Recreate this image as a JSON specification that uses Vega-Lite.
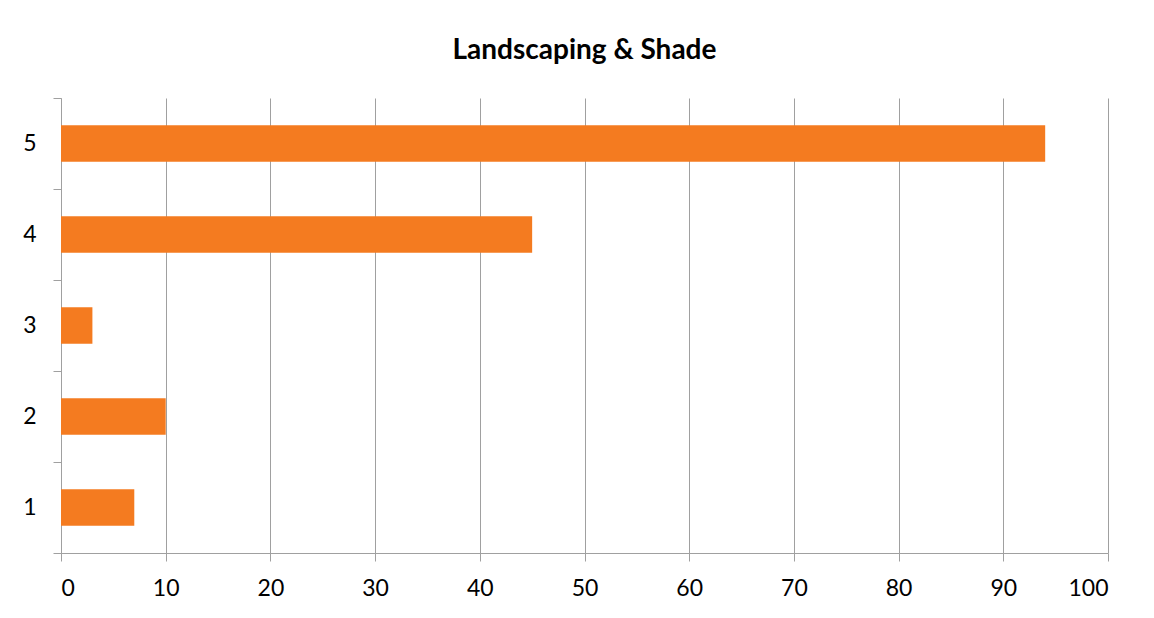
{
  "$schema": "https://vega.github.io/schema/vega-lite/v6.json",
  "width": 1047,
  "height": 455,
  "autosize": {"type": "none"},
  "padding": {"left": 61, "top": 98, "right": 46, "bottom": 65},
  "background": "white",
  "title": {
    "text": "Landscaping & Shade",
    "font": "Lato",
    "fontSize": 28,
    "fontWeight": "bold",
    "color": "black",
    "anchor": "middle",
    "offset": 22
  },
  "config": {"view": {"stroke": null}},
  "data": {
    "values": [
      {"rating": "1", "count": 7},
      {"rating": "2", "count": 10},
      {"rating": "3", "count": 3},
      {"rating": "4", "count": 45},
      {"rating": "5", "count": 94}
    ]
  },
  "mark": {"type": "bar", "color": "#F47B20", "height": {"band": 0.4}},
  "encoding": {
    "y": {
      "field": "rating",
      "type": "nominal",
      "sort": "descending",
      "scale": {"paddingInner": 0, "paddingOuter": 0},
      "axis": {
        "title": null,
        "tickBand": "extent",
        "tickSize": 8,
        "tickColor": "#A0A0A0",
        "domainColor": "#A0A0A0",
        "labelFont": "Lato",
        "labelFontSize": 23,
        "labelColor": "black",
        "labelPadding": 17,
        "labelAngle": 0,
        "grid": false
      }
    },
    "x": {
      "field": "count",
      "type": "quantitative",
      "scale": {"domain": [0, 100], "nice": false},
      "axis": {
        "title": null,
        "values": [0, 10, 20, 30, 40, 50, 60, 70, 80, 90, 100],
        "grid": true,
        "gridColor": "#A0A0A0",
        "gridOpacity": 1,
        "tickSize": 8,
        "tickColor": "#A0A0A0",
        "domainColor": "#A0A0A0",
        "labelFont": "Lato",
        "labelFontSize": 23,
        "labelColor": "black",
        "labelPadding": 16
      }
    }
  }
}
